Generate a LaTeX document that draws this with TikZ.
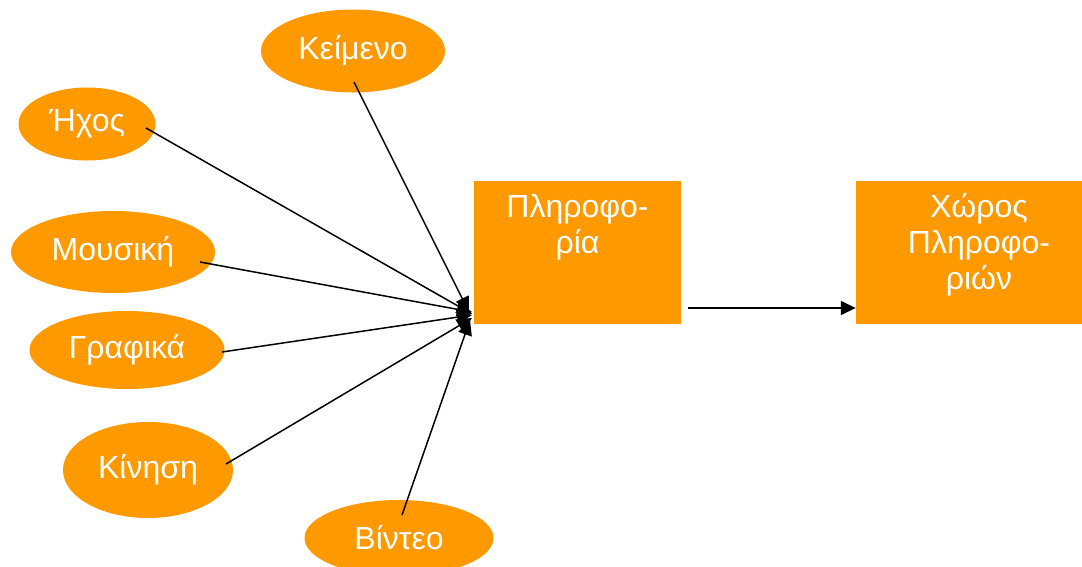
\documentclass[tikz,border=0pt]{standalone}
\usepackage{fontspec}
\setmainfont{Liberation Sans}
\usetikzlibrary{shapes.geometric,arrows.meta}
\definecolor{org}{HTML}{FF9900}
\tikzset{
  oval/.style={ellipse, fill=org, draw=none, inner sep=0pt, text=white, font=\fontsize{32}{36}\selectfont},
  box/.style={rectangle, fill=org, draw=none, inner sep=0pt},
  boxtext/.style={anchor=north, text=white, align=center, font=\fontsize{32}{36}\selectfont, inner sep=0pt},
  conn/.style={line width=1.5pt, -{Triangle[length=15pt,width=14pt]}}
}
\begin{document}
\begin{tikzpicture}[x=1pt,y=-1pt]
\useasboundingbox (0,0) rectangle (1082,566);
% ellipses
\node[oval, minimum width=184pt, minimum height=83pt] (keim) at (353,51) {Κείμενο};
\node[oval, minimum width=137pt, minimum height=73pt] (ixos) at (87,124) {Ήχος};
\node[oval, minimum width=204pt, minimum height=82pt] (mous) at (113,252) {Μουσική};
\node[oval, minimum width=195pt, minimum height=78pt] (graf) at (127,350) {Γραφικά};
\node[oval, minimum width=170pt, minimum height=96pt] (kin) at (148,470) {Κίνηση};
\node[oval, minimum width=189pt, minimum height=76pt] (vid) at (399,538) {Βίντεο};
% boxes
\node[box, minimum width=207pt, minimum height=143pt] (info) at (577.5,252.5) {};
\node[boxtext] (infot) at (577.5,194) {Πληροφο-\\ρία};
\node[box, minimum width=227pt, minimum height=143pt] (space) at (969.5,252.5) {};
\node[boxtext] (spacet) at (979,193) {Χώρος\\Πληροφο-\\ριών};
% connector end points
\coordinate (s1) at (354,82);
\coordinate (s2) at (146,128);
\coordinate (s3) at (200,262);
\coordinate (s4) at (222,352);
\coordinate (s5) at (226,464);
\coordinate (s6) at (402,515);
\coordinate (h1) at (469,312);
\coordinate (h2) at (472,314);
\coordinate (h3) at (472,312);
\coordinate (h4) at (472,315);
\coordinate (h5) at (472,318);
\coordinate (h6) at (470,320);
\coordinate (a1) at (688,308);
\draw[conn] (s1) -- (h1);
\draw[conn] (s2) -- (h2);
\draw[conn] (s3) -- (h3);
\draw[conn] (s4) -- (h4);
\draw[conn] (s5) -- (h5);
\draw[conn] (s6) -- (h6);
\draw[conn] (a1) -- (space.west |- a1);
\end{tikzpicture}
\end{document}
